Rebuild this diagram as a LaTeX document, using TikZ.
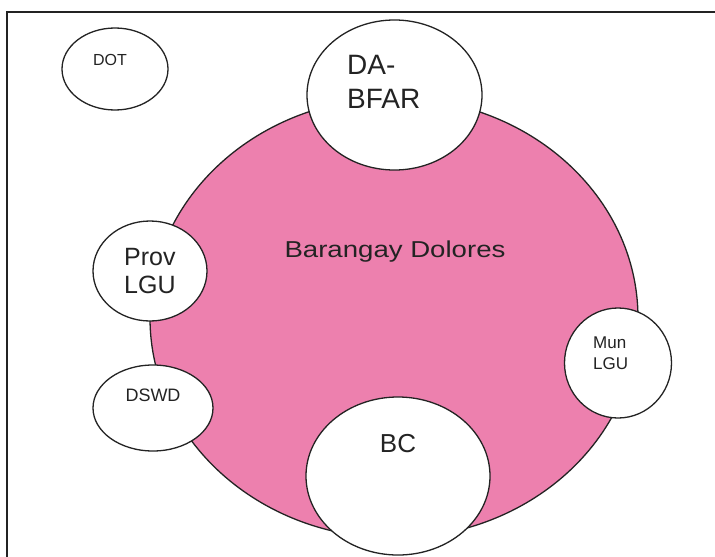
\documentclass[tikz,border=0pt]{standalone}
\usepackage{fontspec}
\setmainfont{Liberation Sans}
\usetikzlibrary{shapes.geometric}
\definecolor{pinkfill}{RGB}{237,128,174}
\definecolor{inkgray}{RGB}{35,35,35}
\tikzset{
  bubble/.style={ellipse, draw=inkgray, line width=1.3pt, fill=white, inner sep=0pt},
  lbl/.style={text=inkgray, inner sep=0pt, align=left}
}
\begin{document}
\begin{tikzpicture}[x=1pt,y=-1pt]
\useasboundingbox (0,0) rectangle (715,557);
\fill[white] (0,0) rectangle (715,557);
% frame
\coordinate (fbl) at (7,560);
\coordinate (ftl) at (7,12);
\coordinate (ftr) at (718,12);
\draw[inkgray, line width=2pt] (fbl) -- (ftl) -- (ftr);
% main pink ellipse
\node[ellipse, draw=inkgray, line width=1.3pt, fill=pinkfill, inner sep=0pt,
      minimum width=488pt, minimum height=440pt] (brgy) at (394,318) {};
\node[lbl, font=\fontsize{23}{26}\selectfont] (brgyt) at (395,252) {\scalebox{1.2}[1]{Barangay Dolores}};
% DOT
\node[bubble, minimum width=106pt, minimum height=82pt] (dot) at (115,69) {};
\node[lbl, font=\fontsize{16}{18}\selectfont] (dott) at (110,60) {DOT};
% DA-BFAR
\node[bubble, minimum width=175pt, minimum height=150pt] (dabfar) at (394.5,95) {};
\node[lbl, anchor=north west, font=\fontsize{28}{34}\selectfont] (dabfart) at (347,55) {DA-\\BFAR};
% Prov LGU
\node[bubble, minimum width=114pt, minimum height=100pt] (prov) at (150,271) {};
\node[lbl, anchor=north west, font=\fontsize{25}{28}\selectfont] (provt) at (124,248) {Prov\\LGU};
% DSWD
\node[bubble, minimum width=120pt, minimum height=86pt] (dswd) at (153,408) {};
\node[lbl, font=\fontsize{18}{20}\selectfont] (dswdt) at (153,395) {DSWD};
% Mun LGU
\node[bubble, minimum width=107pt, minimum height=110pt] (mun) at (618,363) {};
\node[lbl, anchor=north west, font=\fontsize{17}{21}\selectfont] (munt) at (593,337) {Mun\\LGU};
% BC
\node[bubble, minimum width=184pt, minimum height=158pt] (bc) at (398,476) {};
\node[lbl, font=\fontsize{26}{28}\selectfont] (bct) at (398,444) {BC};
\end{tikzpicture}
\end{document}
